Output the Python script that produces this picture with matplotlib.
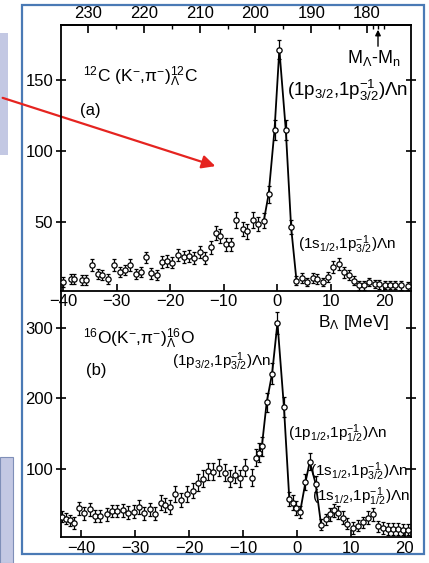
import matplotlib
matplotlib.use('Agg')
import matplotlib.pyplot as plt
from matplotlib.patches import Rectangle, FancyArrowPatch
import numpy as np

plt.rcParams['font.family'] = ['Liberation Sans', 'DejaVu Sans']
plt.rcParams['mathtext.fontset'] = 'custom'
plt.rcParams['mathtext.rm'] = 'Liberation Sans'
plt.rcParams['mathtext.it'] = 'Liberation Sans'
plt.rcParams['mathtext.bf'] = 'Liberation Sans:bold'

# ---------------- data: panel (a) 12C(K-,pi-) ----------------
a_B = [-40.0, -38.5, -38.0, -36.5, -35.8, -34.6, -33.5, -32.7, -31.6, -30.5,
       -29.4, -28.4, -27.5, -26.4, -25.5, -24.5, -23.5, -22.5, -21.6, -20.6,
       -19.6, -18.5, -17.4, -16.5, -15.5, -14.5, -13.5, -12.4, -11.4, -10.6,
       -9.5, -8.7, -7.7, -6.4, -5.7, -4.5, -3.5, -2.5, -1.6, -0.5,
       0.4, 1.6, 2.6, 3.6, 4.6, 5.6, 6.7, 7.4, 8.6, 9.5,
       10.5, 11.5, 12.4, 13.4, 14.3, 15.3, 16.3, 17.2, 18.2, 19.1,
       20.1, 21.0, 22.0, 23.2, 24.5]
a_counts = [7.4, 9.8, 9.8, 8.6, 8.6, 19.3, 12.9, 12.4, 9.8, 19.3,
            14.5, 15.9, 19.3, 12.9, 14.5, 24.7, 13.6, 12.2, 21.6, 22.3,
            21.1, 26.2, 24.9, 26.0, 24.4, 28.4, 24.4, 31.9, 41.7, 40.1,
            34.2, 34.2, 51.1, 44.8, 43.1, 51.1, 48.3, 50.7, 69.5, 115.0,
            171.6, 115.0, 46.0, 8.4, 10.0, 7.3, 10.0, 9.6, 7.3, 10.8,
            17.8, 20.2, 14.3, 12.0, 8.4, 4.9, 4.9, 7.3, 6.1, 5.6,
            5.4, 5.4, 5.4, 4.9, 4.5]
a_err = [3.5, 3.5, 3.5, 3.5, 3.5, 4.0, 3.5, 3.5, 3.5, 4.0,
         3.8, 3.8, 4.0, 3.5, 3.8, 4.2, 3.8, 3.5, 4.0, 4.0,
         4.0, 4.2, 4.2, 4.2, 4.2, 4.4, 4.2, 4.5, 5.0, 5.0,
         4.6, 4.6, 5.4, 5.0, 5.0, 5.4, 5.2, 5.4, 6.0, 7.0,
         6.5, 7.0, 5.0, 3.0, 3.5, 3.0, 3.5, 3.5, 3.0, 3.5,
         4.2, 4.2, 4.0, 3.5, 3.0, 3.0, 3.0, 3.0, 3.0, 3.0,
         3.0, 3.0, 3.0, 3.0, 3.0]

# ---------------- data: panel (b) 16O(K-,pi-) ----------------
b_B = [-43.6, -42.8, -42.1, -41.4, -40.5, -39.5, -38.4, -37.5, -36.5, -35.3,
       -34.4, -33.4, -32.2, -31.3, -30.2, -29.3, -28.3, -27.3, -26.4, -25.3,
       -24.4, -23.5, -22.6, -21.5, -20.4, -19.3, -18.4, -17.4, -16.5, -15.6,
       -14.5, -13.4, -12.4, -11.5, -10.6, -9.6, -8.4, -7.5, -7.0, -6.5,
       -5.6, -4.6, -3.6, -2.4, -1.4, -0.8, -0.2, 0.6, 1.6, 2.4,
       3.5, 4.5, 5.4, 6.2, 6.9, 7.7, 8.5, 9.4, 10.4, 11.3,
       12.2, 13.2, 14.1, 15.0, 16.0, 16.9, 17.8, 18.7, 19.7, 20.6]
b_counts = [32.7, 29.8, 27.8, 24.0, 44.6, 37.4, 43.2, 33.6, 33.6, 36.0,
            40.8, 40.8, 41.8, 38.4, 39.8, 47.0, 37.4, 43.2, 37.0, 52.8,
            49.4, 46.5, 64.8, 56.2, 64.8, 69.6, 80.6, 86.4, 96.9, 96.0,
            101.8, 95.0, 86.4, 92.2, 87.4, 101.8, 87.8, 116.2, 123.4, 132.1,
            194.4, 235.0, 307.0, 188.0, 57.6, 52.8, 45.6, 39.3, 81.6, 110.4,
            79.2, 21.6, 28.8, 36.0, 42.0, 38.4, 31.2, 23.0, 16.8, 20.2,
            25.0, 31.2, 36.0, 19.2, 16.8, 15.4, 15.4, 15.4, 14.4, 14.4]
b_err = [8, 8, 8, 8, 9, 9, 9, 8, 8, 9,
         9, 9, 9, 9, 9, 10, 9, 9, 9, 10,
         10, 10, 11, 10, 11, 11, 12, 12, 12, 12,
         12, 12, 12, 12, 12, 12, 12, 12, 13, 13,
         14, 15, 16, 14, 10, 10, 10, 9, 11, 12,
         11, 8, 8, 9, 9, 9, 9, 8, 8, 8,
         8, 9, 9, 8, 8, 8, 8, 8, 8, 8]

# ---------------- layout ----------------
W, H = 429, 563
fig = plt.figure(figsize=(W / 100, H / 100), dpi=100)


def fx(x):
    return x / W


def fy(y):
    return 1 - y / H


L, R = 61, 411
A_TOP, MID, B_BOT = 25, 291, 537
axb = fig.add_axes([fx(L), fy(B_BOT), (R - L) / W, (B_BOT - MID) / H])
axa = fig.add_axes([fx(L), fy(MID), (R - L) / W, (MID - A_TOP) / H])
axa.set_zorder(3)
axa.patch.set_alpha(0)

eb = dict(fmt='o', mfc='white', mec='black', ms=3.8, mew=0.9, ecolor='black',
          elinewidth=0.9, capsize=1.6, capthick=0.9, zorder=3)

aB = np.array(a_B); aC = np.array(a_counts)
axa.errorbar(aB, aC, yerr=a_err, **eb)
ma = (aB >= -2.6) & (aB <= 3.7)
axa.plot(aB[ma], aC[ma], color='black', lw=1.3, zorder=2)

bB = np.array(b_B); bC = np.array(b_counts)
axb.errorbar(bB, bC, yerr=b_err, **eb)
mb = (bB >= -7.6) & (bB <= 4.6)
axb.plot(bB[mb], bC[mb], color='black', lw=1.3, zorder=2)

for ax in (axa, axb):
    for s in ax.spines.values():
        s.set_linewidth(1.3)
    ax.tick_params(axis='both', direction='inout', length=7, width=1.2,
                   labelsize=12, right=True, pad=2)

axb.spines['top'].set_visible(False)

axa.set_xlim(-40.4, 25)
axa.set_ylim(1, 189)
axa.set_xticks([-40, -30, -20, -10, 0, 10, 20])
axa.set_yticks([50, 100, 150])
axa.tick_params(axis='x', direction='in', length=5, pad=2)

sec = axa.secondary_xaxis('top', functions=(lambda b: 196.1 - 0.96 * b,
                                            lambda m: (196.1 - m) / 0.96))
sec.set_xticks([180, 190, 200, 210, 220, 230])
sec.set_xticks([177, 178, 179, 185, 195, 205, 215, 225], minor=True)
sec.tick_params(axis='x', which='major', direction='in', length=6, width=1.2,
                labelsize=12, pad=3)
sec.tick_params(axis='x', which='minor', direction='in', length=3, width=1.0)
sec.spines['top'].set_linewidth(1.3)

axb.set_xlim(-43.8, 21.2)
axb.set_ylim(4, 352)
axb.set_xticks([-40, -30, -20, -10, 0, 10, 20])
axb.set_yticks([100, 200, 300])
axb.tick_params(axis='x', direction='in', length=5, pad=3)

# ---------------- texts ----------------
fs = 12
fsl = 11
fig.text(fx(83), fy(77), r'$^{12}$C (K$^{-}$,π$^{-}$)$^{12}_{\Lambda}$C', ha='left', va='center', fontsize=12.5)
fig.text(fx(80), fy(110), '(a)', ha='left', va='center', fontsize=fs)
fig.text(fx(287), fy(90), r'(1p$_{3/2}$,1p$_{3/2}^{-1}$)Λn', ha='left', va='center', fontsize=13.5)
fig.text(fx(298), fy(245), r'(1s$_{1/2}$,1p$_{3/2}^{-1}$)Λn', ha='left', va='center', fontsize=fsl)
fig.text(fx(374), fy(58), r'M$_{\Lambda}$-M$_{n}$', ha='center', va='center', fontsize=13)
fig.add_artist(FancyArrowPatch((fx(378), fy(49)), (fx(378), fy(27)), transform=fig.transFigure,
                               arrowstyle='-|>', mutation_scale=8, color='black', lw=1.0))

fig.text(fx(83), fy(339), r'$^{16}$O(K$^{-}$,π$^{-}$)$^{16}_{\Lambda}$O', ha='left', va='center', fontsize=12.5)
fig.text(fx(86), fy(371), '(b)', ha='left', va='center', fontsize=fs)
fig.text(fx(318), fy(322), r'B$_{\Lambda}$ [MeV]', ha='left', va='center', fontsize=12.5)
fig.text(fx(172), fy(362), r'(1p$_{3/2}$,1p$_{3/2}^{-1}$)Λn', ha='left', va='center', fontsize=fsl)
fig.text(fx(288), fy(434), r'(1p$_{1/2}$,1p$_{1/2}^{-1}$)Λn', ha='left', va='center', fontsize=fsl)
fig.text(fx(310), fy(472), r'(1s$_{1/2}$,1p$_{3/2}^{-1}$)Λn', ha='left', va='center', fontsize=fsl)
fig.text(fx(312), fy(497), r'(1s$_{1/2}$,1p$_{1/2}^{-1}$)Λn', ha='left', va='center', fontsize=fsl)

# ---------------- slide decorations ----------------
fig.add_artist(Rectangle((fx(22), fy(554)), (424 - 22) / W, (554 - 5) / H, transform=fig.transFigure,
                         fill=False, ec='#4a7ab5', lw=1.6))
fig.add_artist(Rectangle((0, fy(155)), 8 / W, (155 - 33) / H, transform=fig.transFigure,
                         fc='#c3c8e3', ec='none'))
fig.add_artist(Rectangle((0, fy(563)), 13 / W, (563 - 457) / H, transform=fig.transFigure,
                         fc='#c3c8e3', ec='#7f8fb8', lw=0.8))
fig.add_artist(FancyArrowPatch((fx(0), fy(97)), (fx(218), fy(167)), transform=fig.transFigure,
                               arrowstyle='-|>', mutation_scale=20, color='#e52420', lw=1.6))

fig.savefig('out.png', dpi=100)
